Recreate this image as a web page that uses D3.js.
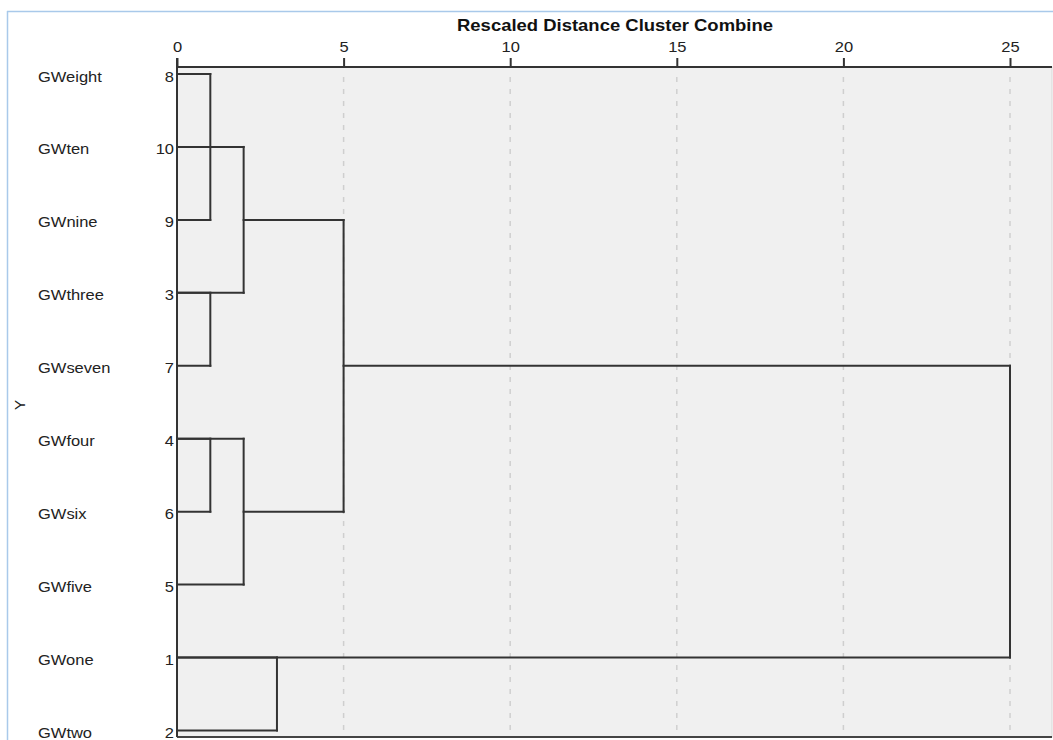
<!DOCTYPE html>
<html><head><meta charset="utf-8">
<script src="https://cdn.jsdelivr.net/npm/d3@7"></script>
<style>html,body{margin:0;padding:0;background:#fff;}svg{display:block;}</style>
</head><body>
<script>
// ---- data ----
const leafNames = ["GWeight","GWten","GWnine","GWthree","GWseven","GWfour","GWsix","GWfive","GWone","GWtwo"];
const leafIds   = ["8","10","9","3","7","4","6","5","1","2"];
const tickValues = [0,5,10,15,20,25];
const axisTitle = "Rescaled Distance Cluster Combine";
const yTitle = "Y";
// merges as drawn: distance where joined, two child rows, and distance where each child line starts
const mergeDist  = [1, 1, 1, 2, 2, 5, 3, 25];
const mergeRowA  = [0, 3, 5, 1, 5, 2, 8, 4];
const mergeRowB  = [2, 4, 6, 3, 7, 6, 9, 8];
const mergeFromA = [0, 0, 0, 0, 0, 2, 0, 5];
const mergeFromB = [0, 0, 0, 0, 0, 2, 0, 0];

// ---- layout ----
const W = 1053, H = 740;
const plotL = 177, plotR = 1052, plotT = 67, plotB = 737;
const SX = 1.1;
const FONT = "'Liberation Sans', Arial, sans-serif";
const svg = d3.select("body").append("svg").attr("width", W).attr("height", H);

const x = d3.scaleLinear().domain([0,25]).range([177,1010]);
const y = d3.scaleLinear().domain([0,9]).range([74,730.5]);

// outer frame
svg.append("line").attr("x1",7).attr("x2",W).attr("y1",11.5).attr("y2",11.5).attr("stroke","#a9c9ea").attr("stroke-width",1.5);
svg.append("line").attr("x1",7.5).attr("x2",7.5).attr("y1",11).attr("y2",H).attr("stroke","#a9c9ea").attr("stroke-width",1.5);

// plot background
svg.append("rect").attr("x",plotL).attr("y",plotT).attr("width",plotR-plotL).attr("height",plotB-plotT)
  .attr("fill","#f0f0f0").attr("stroke","#d8d8d8").attr("stroke-width",1);

// gridlines
svg.append("g").selectAll("line").data(tickValues.filter(d=>d>0)).join("line")
  .attr("x1",d=>x(d)).attr("x2",d=>x(d)).attr("y1",plotT+10).attr("y2",plotB)
  .attr("stroke","#cfcfcf").attr("stroke-width",1.5).attr("stroke-dasharray","5,7");

// top axis
const ax = svg.append("g").attr("transform",`translate(0,${plotT})`)
  .call(d3.axisTop(x).tickValues(tickValues).tickSize(9).tickPadding(6));
ax.select(".domain").remove();
ax.selectAll(".tick line").attr("stroke","#333").attr("stroke-width",2);
ax.selectAll(".tick text").attr("font-family",FONT).attr("font-size",15)
  .attr("fill","#222").attr("y",null).attr("dy",null)
  .attr("transform",`translate(0,-15) scale(${SX},1)`);

// axis frame lines
svg.append("line").attr("x1",plotL).attr("x2",plotR).attr("y1",plotT).attr("y2",plotT).attr("stroke","#333").attr("stroke-width",2);
svg.append("line").attr("x1",plotL).attr("x2",plotR).attr("y1",plotB).attr("y2",plotB).attr("stroke","#444").attr("stroke-width",2);
svg.append("line").attr("x1",plotL).attr("x2",plotL).attr("y1",plotT-9).attr("y2",plotB).attr("stroke","#333").attr("stroke-width",2);

// title
svg.append("text").attr("font-family",FONT).attr("font-weight","bold")
  .attr("font-size",16.5).attr("fill","#111").attr("text-anchor","middle")
  .attr("transform",`translate(615,31) scale(1.12,1)`).text(axisTitle);

// y title
svg.append("text").attr("font-family",FONT).attr("font-size",15)
  .attr("fill","#222").attr("text-anchor","middle")
  .attr("transform","translate(25,405) rotate(-90)").text(yTitle);

// leaf labels
const lab = svg.append("g").attr("font-family",FONT).attr("font-size",15).attr("fill","#222");
lab.selectAll("text.name").data(leafNames).join("text").attr("class","name")
  .attr("transform",(d,i)=>`translate(38,${y(i)+7.5}) scale(${SX},1)`).text(d=>d);
lab.selectAll("text.id").data(leafIds).join("text").attr("class","id").attr("text-anchor","end")
  .attr("transform",(d,i)=>`translate(174,${y(i)+7.5}) scale(${SX},1)`).text(d=>d);

// dendrogram
const segs = [];
mergeDist.forEach((d,i)=>{
  segs.push([x(mergeFromA[i]), y(mergeRowA[i]), x(d), y(mergeRowA[i])]);
  segs.push([x(mergeFromB[i]), y(mergeRowB[i]), x(d), y(mergeRowB[i])]);
  segs.push([x(d), y(mergeRowA[i]), x(d), y(mergeRowB[i])]);
});
svg.append("g").selectAll("line").data(segs).join("line")
  .attr("x1",d=>d[0]).attr("y1",d=>d[1]).attr("x2",d=>d[2]).attr("y2",d=>d[3])
  .attr("stroke","#333").attr("stroke-width",2).attr("stroke-linecap","square");
</script>
</body></html>
